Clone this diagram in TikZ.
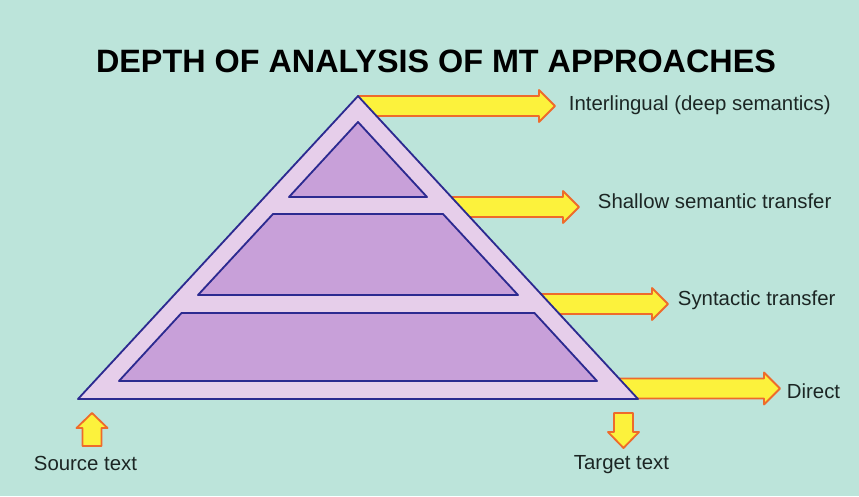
\documentclass[tikz,border=0pt]{standalone}
\usepackage{fontspec}
\setmainfont{Liberation Sans}
\usetikzlibrary{positioning}
\definecolor{cbg}{HTML}{BCE4DA}
\definecolor{clilac}{HTML}{E6CEEA}
\definecolor{cviolet}{HTML}{C8A0D9}
\definecolor{cnavy}{HTML}{2C2A90}
\definecolor{cyellow}{HTML}{FCF23C}
\definecolor{corange}{HTML}{EE6B2B}
\definecolor{cink}{HTML}{1C2624}
\tikzset{
  every picture/.style={line width=1.3pt},
  shell/.style={draw=cnavy, fill=clilac, line join=round},
  layer/.style={draw=cnavy, fill=cviolet, line join=round},
  fatarrow/.style={draw=corange, fill=cyellow, line width=1.3pt, line join=round},
  title/.style={font=\bfseries\fontsize{23}{27}\selectfont, text=black, inner sep=0pt},
  lbl/.style={font=\fontsize{14.5}{17}\selectfont, text=cink, inner sep=0pt},
}
\begin{document}
\begin{tikzpicture}[x=0.025cm, y=-0.025cm]
  \fill[cbg] (0,0) rectangle (859,496);
  \useasboundingbox (0,0) rectangle (859,496);
  \node[title, anchor=base] (title) at (436,72) {DEPTH OF ANALYSIS OF MT APPROACHES};
  % level arrows, drawn first so the pyramid hides their tails
  \foreach \n/\xs/\xe/\yc in {deep/358/555/106, shallow/435/579/207, syn/515/668/304, direct/605/780/388.5} {
    \draw[fatarrow] (\xs,\yc-10) -- (\xe-16,\yc-10) -- (\xe-16,\yc-16) -- (\xe,\yc)
      -- (\xe-16,\yc+16) -- (\xe-16,\yc+10) -- (\xs,\yc+10) -- cycle;
    \coordinate (\n) at (\xe,\yc);
  }
  % pyramid: outer shell and three layers (24 px inset)
  \draw[shell] (358,96) coordinate (apex) -- (638,399) -- (78,399) -- cycle;
  \draw[layer] (358,122) -- (427,197) -- (289,197) -- cycle;
  \draw[layer] (273,214) -- (443,214) -- (518,295) -- (198,295) -- cycle;
  \draw[layer] (181.5,313) -- (534.5,313) -- (597,381) -- (119,381) -- cycle;
  % source / target arrows
  \draw[fatarrow] (82.5,446) -- (82.5,428) -- (76.5,428) -- (92,413) -- (107.5,428) -- (101.5,428) -- (101.5,446) -- cycle;
  \draw[fatarrow] (614,413) -- (614,432) -- (608,432) -- (623.5,448) -- (639,432) -- (633,432) -- (633,413) -- cycle;
  % labels
  \node[lbl, anchor=base west] (lbldeep) at (568,110) {Interlingual (deep semantics)};
  \node[lbl, anchor=base west] (lblshallow) at (597,208) {Shallow semantic transfer};
  \node[lbl, anchor=base west] (lblsyn) at (677,305) {Syntactic transfer};
  \node[lbl, anchor=base west] (lbldirect) at (786,398) {Direct};
  \node[lbl, anchor=base west] (source) at (33,470) {Source text};
  \node[lbl, anchor=base west] (target) at (573,469) {Target text};
\end{tikzpicture}
\end{document}
